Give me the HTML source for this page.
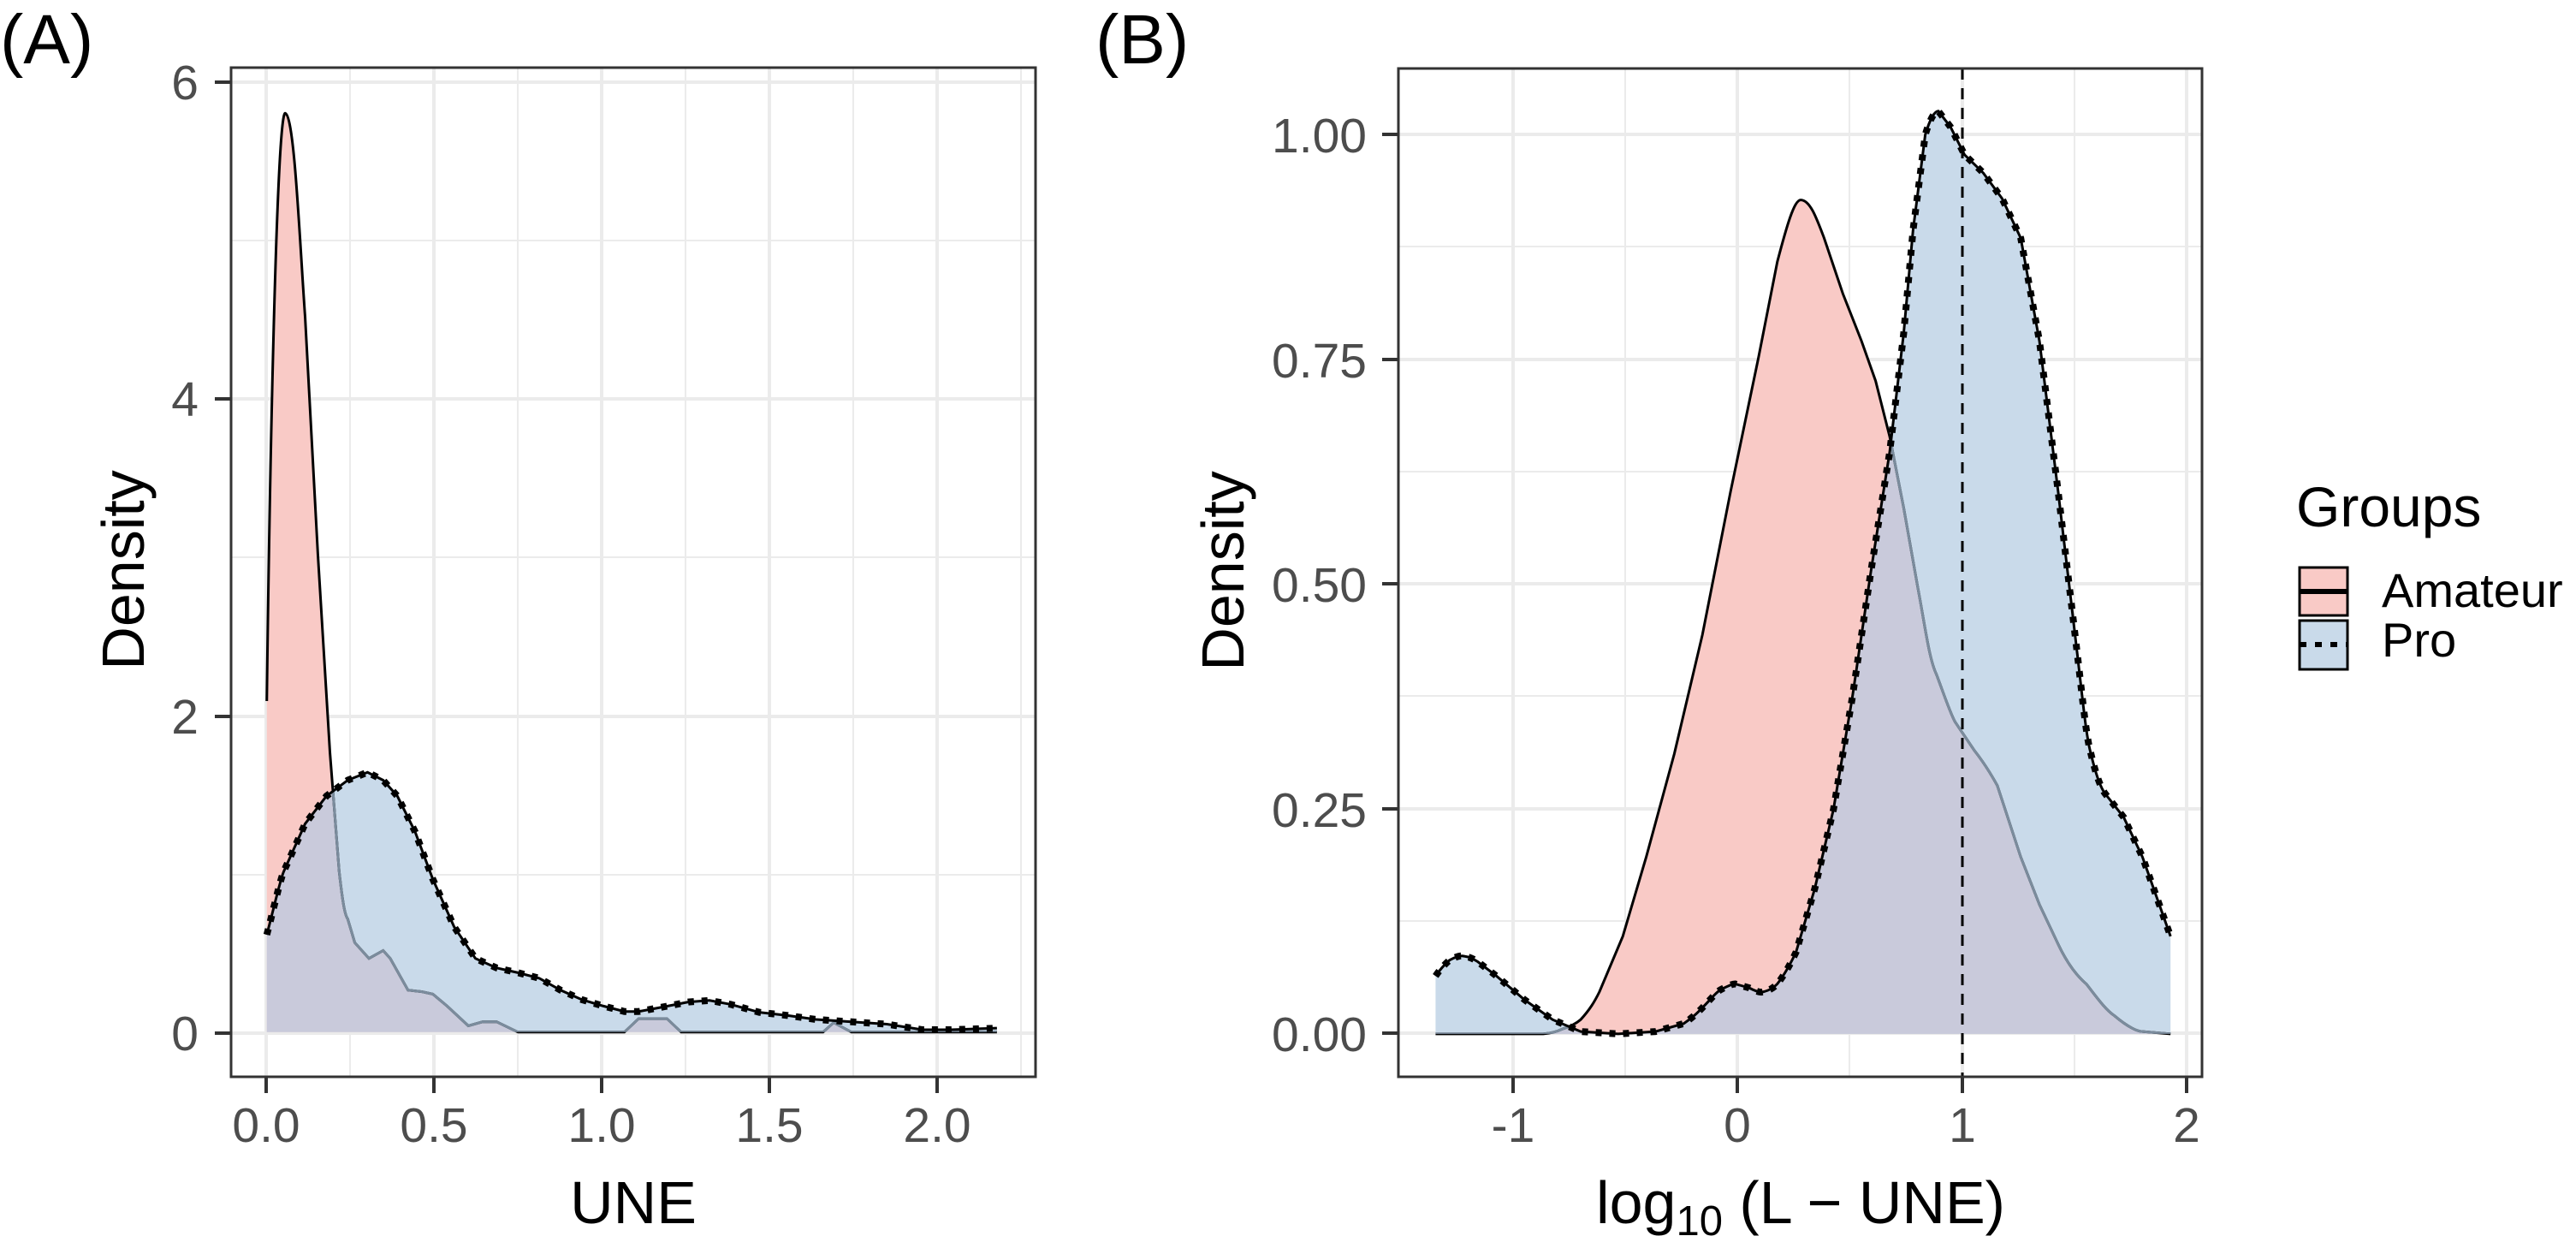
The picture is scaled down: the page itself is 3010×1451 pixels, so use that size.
<!DOCTYPE html>
<html><head><meta charset="utf-8"><style>
html,body{margin:0;padding:0;background:#fff;}
svg{display:block;}
text{font-family:"Liberation Sans",Arial,sans-serif;}
</style></head><body>
<svg width="3010" height="1451" viewBox="0 0 3010 1451" xmlns="http://www.w3.org/2000/svg">
<defs>
<clipPath id="clipA"><rect x="270" y="79" width="940" height="1179"/></clipPath>
<clipPath id="clipB"><rect x="1634" y="80" width="939" height="1178"/></clipPath>
<clipPath id="proAclip" clipPathUnits="userSpaceOnUse"><path transform="scale(0.8291,0.9254)" d="M376,1303 L376,1180 C385,1150 395,1110 400,1100 L430,1040 L460,1005 L490,985 L518,975 L540,985 L560,1005 L585,1050 L610,1110 L640,1170 L670,1210 L700,1222 L730,1228 L760,1235 L790,1250 L820,1262 L850,1270 L880,1277 L900,1277 L930,1272 L970,1265 L1000,1263 L1030,1268 L1070,1278 L1110,1282 L1150,1287 L1200,1290 L1250,1293 L1300,1300 L1340,1300 L1405,1298 L1405,1303 Z"/></clipPath>
<clipPath id="proBclip" clipPathUnits="userSpaceOnUse"><path transform="translate(1300,0) scale(1.094,0.927)" d="M345,1303 L345,1230 L360,1210 L375,1205 L390,1212 L410,1230 L440,1260 L470,1285 L500,1300 L540,1303 L580,1300 L610,1290 L630,1270 L650,1247 L665,1240 L680,1245 L695,1250 L710,1240 L730,1200 L750,1120 L770,1020 L790,880 L810,720 L830,570 L845,420 L855,290 L868,170 C873,150 878,140 882,140 L895,160 L910,195 L930,218 L950,250 L970,300 L990,430 L1010,620 L1030,820 L1045,950 L1060,1000 L1080,1030 L1100,1080 L1130,1180 L1130,1303 Z"/></clipPath>
</defs>

<!-- Panel A grid -->
<g stroke="#ebebeb">
<g stroke-width="2"><line x1="270" x2="1210" y1="1022" y2="1022"/><line x1="270" x2="1210" y1="651" y2="651"/><line x1="270" x2="1210" y1="281" y2="281"/>
<line x1="409" x2="409" y1="79" y2="1258"/><line x1="605" x2="605" y1="79" y2="1258"/><line x1="801" x2="801" y1="79" y2="1258"/><line x1="997" x2="997" y1="79" y2="1258"/><line x1="1193" x2="1193" y1="79" y2="1258"/></g>
<g stroke-width="4"><line x1="270" x2="1210" y1="1207" y2="1207"/><line x1="270" x2="1210" y1="837" y2="837"/><line x1="270" x2="1210" y1="466" y2="466"/><line x1="270" x2="1210" y1="96" y2="96"/>
<line x1="311" x2="311" y1="79" y2="1258"/><line x1="507" x2="507" y1="79" y2="1258"/><line x1="703" x2="703" y1="79" y2="1258"/><line x1="899" x2="899" y1="79" y2="1258"/><line x1="1095" x2="1095" y1="79" y2="1258"/></g>
</g>

<!-- Panel A data -->
<g clip-path="url(#clipA)">
<g transform="scale(0.8291,0.9254)">
<path fill="#F9CAC6" d="M376,1303 L376,885 C380,600 390,140 402,143 C415,146 422,300 430,400 L448,700 L465,950 L478,1100 C483,1140 486,1155 490,1160 L500,1190 L520,1210 L540,1200 L550,1210 L575,1250 L595,1252 L610,1255 L630,1270 L660,1295 L680,1290 L700,1290 L730,1303 L880,1303 L900,1286 L940,1286 L960,1303 L1160,1303 L1175,1291 L1200,1303 L1405,1303 Z"/>
<path fill="#C9DAEA" d="M376,1303 L376,1180 C385,1150 395,1110 400,1100 L430,1040 L460,1005 L490,985 L518,975 L540,985 L560,1005 L585,1050 L610,1110 L640,1170 L670,1210 L700,1222 L730,1228 L760,1235 L790,1250 L820,1262 L850,1270 L880,1277 L900,1277 L930,1272 L970,1265 L1000,1263 L1030,1268 L1070,1278 L1110,1282 L1150,1287 L1200,1290 L1250,1293 L1300,1300 L1340,1300 L1405,1298 L1405,1303 Z"/>
</g>
<g clip-path="url(#proAclip)">
<path transform="scale(0.8291,0.9254)" fill="#C9CADB" d="M376,1303 L376,885 C380,600 390,140 402,143 C415,146 422,300 430,400 L448,700 L465,950 L478,1100 C483,1140 486,1155 490,1160 L500,1190 L520,1210 L540,1200 L550,1210 L575,1250 L595,1252 L610,1255 L630,1270 L660,1295 L680,1290 L700,1290 L730,1303 L880,1303 L900,1286 L940,1286 L960,1303 L1160,1303 L1175,1291 L1200,1303 L1405,1303 Z"/>
</g>
<path transform="scale(0.8291,0.9254)" fill="none" stroke="#000" stroke-width="3" vector-effect="non-scaling-stroke" d="M376,885 C380,600 390,140 402,143 C415,146 422,300 430,400 L448,700 L465,950 L478,1100 C483,1140 486,1155 490,1160 L500,1190 L520,1210 L540,1200 L550,1210 L575,1250 L595,1252 L610,1255 L630,1270 L660,1295 L680,1290 L700,1290 L730,1303 L880,1303 L900,1286 L940,1286 L960,1303 L1160,1303 L1175,1291 L1200,1303 L1405,1303"/>
<g clip-path="url(#proAclip)">
<path transform="scale(0.8291,0.9254)" fill="none" stroke="#7b8c9d" stroke-width="3" vector-effect="non-scaling-stroke" d="M376,885 C380,600 390,140 402,143 C415,146 422,300 430,400 L448,700 L465,950 L478,1100 C483,1140 486,1155 490,1160 L500,1190 L520,1210 L540,1200 L550,1210 L575,1250 L595,1252 L610,1255 L630,1270 L660,1295 L680,1290 L700,1290 L730,1303 L880,1303 L900,1286 L940,1286 L960,1303 L1160,1303 L1175,1291 L1200,1303 L1405,1303"/>
</g>
<path transform="scale(0.8291,0.9254)" fill="none" stroke="#000" stroke-width="3" vector-effect="non-scaling-stroke" d="M376,1180 C385,1150 395,1110 400,1100 L430,1040 L460,1005 L490,985 L518,975 L540,985 L560,1005 L585,1050 L610,1110 L640,1170 L670,1210 L700,1222 L730,1228 L760,1235 L790,1250 L820,1262 L850,1270 L880,1277 L900,1277 L930,1272 L970,1265 L1000,1263 L1030,1268 L1070,1278 L1110,1282 L1150,1287 L1200,1290 L1250,1293 L1300,1300 L1340,1300 L1405,1298"/>
<path transform="scale(0.8291,0.9254)" fill="none" stroke="#000" stroke-width="8" stroke-dasharray="7 9" vector-effect="non-scaling-stroke" d="M376,1180 C385,1150 395,1110 400,1100 L430,1040 L460,1005 L490,985 L518,975 L540,985 L560,1005 L585,1050 L610,1110 L640,1170 L670,1210 L700,1222 L730,1228 L760,1235 L790,1250 L820,1262 L850,1270 L880,1277 L900,1277 L930,1272 L970,1265 L1000,1263 L1030,1268 L1070,1278 L1110,1282 L1150,1287 L1200,1290 L1250,1293 L1300,1300 L1340,1300 L1405,1298"/>
</g>
<rect x="270" y="79" width="940" height="1179" fill="none" stroke="#333" stroke-width="3"/>
<g stroke="#333" stroke-width="4">
<line x1="251" x2="270" y1="1207" y2="1207"/><line x1="251" x2="270" y1="837" y2="837"/><line x1="251" x2="270" y1="466" y2="466"/><line x1="251" x2="270" y1="96" y2="96"/>
<line x1="311" x2="311" y1="1258" y2="1277"/><line x1="507" x2="507" y1="1258" y2="1277"/><line x1="703" x2="703" y1="1258" y2="1277"/><line x1="899" x2="899" y1="1258" y2="1277"/><line x1="1095" x2="1095" y1="1258" y2="1277"/>
</g>
<g fill="#4d4d4d" font-size="57">
<g text-anchor="end"><text x="232" y="1227">0</text><text x="232" y="857">2</text><text x="232" y="486">4</text><text x="232" y="116">6</text></g>
<g text-anchor="middle"><text x="311" y="1334">0.0</text><text x="507" y="1334">0.5</text><text x="703" y="1334">1.0</text><text x="899" y="1334">1.5</text><text x="1095" y="1334">2.0</text></g>
</g>
<text x="740" y="1429" font-size="70" text-anchor="middle">UNE</text>
<text transform="translate(168,666) rotate(-90)" font-size="70" text-anchor="middle">Density</text>
<text x="0" y="74" font-size="82">(A)</text>

<!-- Panel B grid -->
<g stroke="#ebebeb">
<g stroke-width="2"><line x1="1634" x2="2573" y1="1076" y2="1076"/><line x1="1634" x2="2573" y1="813" y2="813"/><line x1="1634" x2="2573" y1="551" y2="551"/><line x1="1634" x2="2573" y1="288" y2="288"/>
<line x1="1899" x2="1899" y1="80" y2="1258"/><line x1="2161" x2="2161" y1="80" y2="1258"/><line x1="2424" x2="2424" y1="80" y2="1258"/></g>
<g stroke-width="4"><line x1="1634" x2="2573" y1="1207" y2="1207"/><line x1="1634" x2="2573" y1="945" y2="945"/><line x1="1634" x2="2573" y1="682" y2="682"/><line x1="1634" x2="2573" y1="420" y2="420"/><line x1="1634" x2="2573" y1="157" y2="157"/>
<line x1="1768" x2="1768" y1="80" y2="1258"/><line x1="2030" x2="2030" y1="80" y2="1258"/><line x1="2293" x2="2293" y1="80" y2="1258"/><line x1="2555" x2="2555" y1="80" y2="1258"/></g>
</g>

<g clip-path="url(#clipB)">
<g transform="translate(1300,0) scale(1.094,0.927)">
<path fill="#F9CAC6" d="M345,1303 L460,1303 C470,1302 475,1300 480,1297 C490,1293 495,1290 500,1285 C510,1272 515,1262 520,1250 L545,1180 L570,1080 L600,950 L630,800 L660,620 L690,450 L710,330 C720,285 728,252 735,252 C745,252 752,275 760,300 L780,370 L800,430 L815,480 L830,550 L845,640 L860,740 C868,790 872,830 880,850 C888,875 895,900 900,910 L920,945 C930,960 938,975 945,990 L970,1080 L990,1140 L1010,1190 C1020,1215 1030,1230 1040,1240 C1050,1255 1060,1272 1070,1280 C1085,1295 1095,1300 1100,1300 L1130,1303 Z"/>
<path fill="#C9DAEA" d="M345,1303 L345,1230 C352,1218 358,1212 360,1210 C368,1205 372,1204 375,1205 C382,1206 386,1209 390,1212 L410,1230 L440,1260 L470,1285 L500,1300 L540,1303 L580,1300 L610,1290 C620,1282 625,1276 630,1270 C640,1258 645,1250 650,1247 C658,1242 662,1240 665,1240 L680,1245 C688,1250 692,1251 695,1250 C702,1248 706,1245 710,1240 C718,1228 724,1215 730,1200 L750,1120 L770,1020 L790,880 L810,720 L830,570 L845,420 L855,290 L868,170 C873,150 878,140 882,140 L895,160 L910,195 L930,218 L950,250 L970,300 L990,430 L1010,620 L1030,820 C1036,880 1040,930 1045,950 C1050,975 1055,992 1060,1000 L1080,1030 L1100,1080 L1130,1180 L1130,1303 Z"/>
</g>
<g clip-path="url(#proBclip)">
<path transform="translate(1300,0) scale(1.094,0.927)" fill="#C9CADB" d="M345,1303 L460,1303 C470,1302 475,1300 480,1297 C490,1293 495,1290 500,1285 C510,1272 515,1262 520,1250 L545,1180 L570,1080 L600,950 L630,800 L660,620 L690,450 L710,330 C720,285 728,252 735,252 C745,252 752,275 760,300 L780,370 L800,430 L815,480 L830,550 L845,640 L860,740 C868,790 872,830 880,850 C888,875 895,900 900,910 L920,945 C930,960 938,975 945,990 L970,1080 L990,1140 L1010,1190 C1020,1215 1030,1230 1040,1240 C1050,1255 1060,1272 1070,1280 C1085,1295 1095,1300 1100,1300 L1130,1303 Z"/>
</g>
<path transform="translate(1300,0) scale(1.094,0.927)" fill="none" stroke="#000" stroke-width="3" vector-effect="non-scaling-stroke" d="M345,1303 L460,1303 C470,1302 475,1300 480,1297 C490,1293 495,1290 500,1285 C510,1272 515,1262 520,1250 L545,1180 L570,1080 L600,950 L630,800 L660,620 L690,450 L710,330 C720,285 728,252 735,252 C745,252 752,275 760,300 L780,370 L800,430 L815,480 L830,550 L845,640 L860,740 C868,790 872,830 880,850 C888,875 895,900 900,910 L920,945 C930,960 938,975 945,990 L970,1080 L990,1140 L1010,1190 C1020,1215 1030,1230 1040,1240 C1050,1255 1060,1272 1070,1280 C1085,1295 1095,1300 1100,1300 L1130,1303"/>
<g clip-path="url(#proBclip)">
<path transform="translate(1300,0) scale(1.094,0.927)" fill="none" stroke="#7b8c9d" stroke-width="3" vector-effect="non-scaling-stroke" d="M345,1303 L460,1303 C470,1302 475,1300 480,1297 C490,1293 495,1290 500,1285 C510,1272 515,1262 520,1250 L545,1180 L570,1080 L600,950 L630,800 L660,620 L690,450 L710,330 C720,285 728,252 735,252 C745,252 752,275 760,300 L780,370 L800,430 L815,480 L830,550 L845,640 L860,740 C868,790 872,830 880,850 C888,875 895,900 900,910 L920,945 C930,960 938,975 945,990 L970,1080 L990,1140 L1010,1190 C1020,1215 1030,1230 1040,1240 C1050,1255 1060,1272 1070,1280 C1085,1295 1095,1300 1100,1300 L1130,1303"/>
</g>
<line x1="2293" x2="2293" y1="80" y2="1258" stroke="#000" stroke-width="3" stroke-dasharray="13 10"/>
<path transform="translate(1300,0) scale(1.094,0.927)" fill="none" stroke="#000" stroke-width="3" vector-effect="non-scaling-stroke" d="M345,1230 C352,1218 358,1212 360,1210 C368,1205 372,1204 375,1205 C382,1206 386,1209 390,1212 L410,1230 L440,1260 L470,1285 L500,1300 L540,1303 L580,1300 L610,1290 C620,1282 625,1276 630,1270 C640,1258 645,1250 650,1247 C658,1242 662,1240 665,1240 L680,1245 C688,1250 692,1251 695,1250 C702,1248 706,1245 710,1240 C718,1228 724,1215 730,1200 L750,1120 L770,1020 L790,880 L810,720 L830,570 L845,420 L855,290 L868,170 C873,150 878,140 882,140 L895,160 L910,195 L930,218 L950,250 L970,300 L990,430 L1010,620 L1030,820 C1036,880 1040,930 1045,950 C1050,975 1055,992 1060,1000 L1080,1030 L1100,1080 L1130,1180"/>
<path transform="translate(1300,0) scale(1.094,0.927)" fill="none" stroke="#000" stroke-width="8" stroke-dasharray="7 9" vector-effect="non-scaling-stroke" d="M345,1230 C352,1218 358,1212 360,1210 C368,1205 372,1204 375,1205 C382,1206 386,1209 390,1212 L410,1230 L440,1260 L470,1285 L500,1300 L540,1303 L580,1300 L610,1290 C620,1282 625,1276 630,1270 C640,1258 645,1250 650,1247 C658,1242 662,1240 665,1240 L680,1245 C688,1250 692,1251 695,1250 C702,1248 706,1245 710,1240 C718,1228 724,1215 730,1200 L750,1120 L770,1020 L790,880 L810,720 L830,570 L845,420 L855,290 L868,170 C873,150 878,140 882,140 L895,160 L910,195 L930,218 L950,250 L970,300 L990,430 L1010,620 L1030,820 C1036,880 1040,930 1045,950 C1050,975 1055,992 1060,1000 L1080,1030 L1100,1080 L1130,1180"/>
</g>
<rect x="1634" y="80" width="939" height="1178" fill="none" stroke="#333" stroke-width="3"/>
<g stroke="#333" stroke-width="4">
<line x1="1615" x2="1634" y1="1207" y2="1207"/><line x1="1615" x2="1634" y1="945" y2="945"/><line x1="1615" x2="1634" y1="682" y2="682"/><line x1="1615" x2="1634" y1="420" y2="420"/><line x1="1615" x2="1634" y1="157" y2="157"/>
<line x1="1768" x2="1768" y1="1258" y2="1277"/><line x1="2030" x2="2030" y1="1258" y2="1277"/><line x1="2293" x2="2293" y1="1258" y2="1277"/><line x1="2555" x2="2555" y1="1258" y2="1277"/>
</g>
<g fill="#4d4d4d" font-size="57">
<g text-anchor="end"><text x="1597" y="1228">0.00</text><text x="1597" y="966">0.25</text><text x="1597" y="703">0.50</text><text x="1597" y="441">0.75</text><text x="1597" y="178">1.00</text></g>
<g text-anchor="middle"><text x="1768" y="1334">-1</text><text x="2030" y="1334">0</text><text x="2293" y="1334">1</text><text x="2555" y="1334">2</text></g>
</g>
<text x="2104" y="1429" font-size="70" text-anchor="middle">log<tspan font-size="49" dy="14">10</tspan><tspan dy="-14"> (L − UNE)</tspan></text>
<text transform="translate(1453,667) rotate(-90)" font-size="70" text-anchor="middle">Density</text>
<text x="1280" y="74" font-size="82">(B)</text>

<!-- Legend -->
<text x="2683" y="615" font-size="66">Groups</text>
<rect x="2687" y="663" width="56" height="56" fill="#F9CAC6" stroke="#000" stroke-width="3"/>
<line x1="2687" x2="2743" y1="691" y2="691" stroke="#000" stroke-width="6"/>
<rect x="2687" y="725" width="56" height="57" fill="#C9DAEA" stroke="#000" stroke-width="3"/>
<line x1="2687" x2="2743" y1="753" y2="753" stroke="#000" stroke-width="6" stroke-dasharray="8 10"/>
<text x="2783" y="709" font-size="56">Amateur</text>
<text x="2783" y="767" font-size="56">Pro</text>
</svg>
</body></html>
